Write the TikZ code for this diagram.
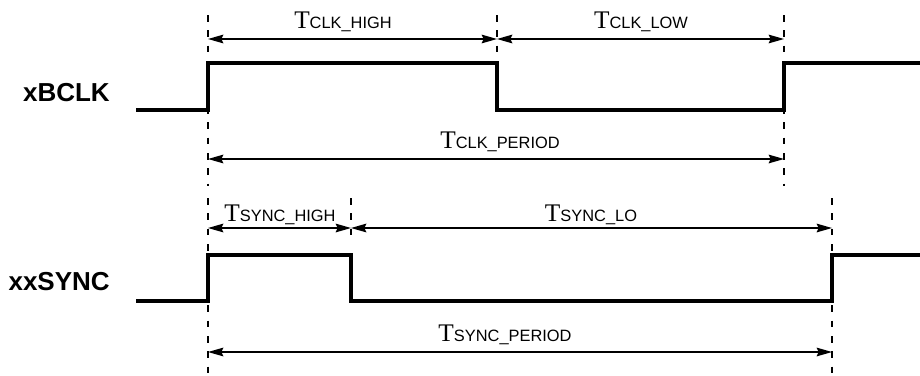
\documentclass[tikz,border=0pt]{standalone}
\usepackage{fontspec}
\setmainfont{Liberation Sans}
\newfontfamily\lserif{Liberation Serif}
\usetikzlibrary{arrows.meta}
\newcommand\tlab[1]{{\fontsize{19}{19}\selectfont\lserif T}{\fontsize{12.3}{13}\selectfont #1}}
\begin{document}
\begin{tikzpicture}[x=0.75pt,y=-0.75pt,
  wave/.style={line width=2.7pt,line join=miter,line cap=butt},
  guide/.style={line width=1.2pt,dash pattern=on 5pt off 6.5pt},
  dim/.style={line width=1.1pt,{Stealth[length=11.5pt,width=6.5pt,inset=1.5pt]}-{Stealth[length=11.5pt,width=6.5pt,inset=1.5pt]}},
  tlabel/.style={anchor=base,inner sep=0pt,outer sep=0pt},
  sig/.style={anchor=base east,inner sep=0pt,font=\bfseries\fontsize{19.5}{20}\selectfont}]
\useasboundingbox (0,0) rectangle (920,375);
% signal names
\node[sig] (nclk) at (110,101) {xBCLK};
\node[sig] (nsync) at (110,290) {xxSYNC};
% waveforms
\draw[wave] (136,110) -- (208,110) -- (208,63) -- (497,63) -- (497,110) -- (784,110) -- (784,63) -- (920,63);
\draw[wave] (136,301) -- (208,301) -- (208,255) -- (351,255) -- (351,301) -- (832,301) -- (832,255) -- (920,255);
% guide lines
\coordinate (g1t) at (208,15); \coordinate (g1b) at (208,186);
\coordinate (g2t) at (497,15); \coordinate (g2b) at (497,52);
\coordinate (g3t) at (784,15); \coordinate (g3b) at (784,186);
\coordinate (s1t) at (208,198); \coordinate (s1b) at (208,375);
\coordinate (s2t) at (351,198); \coordinate (s2b) at (351,240);
\coordinate (s3t) at (832,198); \coordinate (s3b) at (832,375);
\draw[guide] (g1t) -- (g1b);
\draw[guide] (g2t) -- (g2b);
\draw[guide] (g3t) -- (g3b);
\draw[guide] (s1t) -- (s1b);
\draw[guide] (s2t) -- (s2b);
\draw[guide] (s3t) -- (s3b);
% dimension arrows
\coordinate (a1) at (208,39); \coordinate (a2) at (497,39); \coordinate (a3) at (784,39);
\coordinate (p1) at (208,159); \coordinate (p2) at (784,159);
\coordinate (b1) at (208,228); \coordinate (b2) at (351,228); \coordinate (b3) at (832,228);
\coordinate (q1) at (208,352); \coordinate (q2) at (832,352);
\draw[dim] (a1) -- (a2);
\draw[dim] (a2) -- (a3);
\draw[dim] (p1) -- (p2);
\draw[dim] (b1) -- (b2);
\draw[dim] (b2) -- (b3);
\draw[dim] (q1) -- (q2);
% labels
\node[tlabel] (lch) at (343,28) {\tlab{CLK\_HIGH}};
\node[tlabel] (lcl) at (641,28) {\tlab{CLK\_LOW}};
\node[tlabel] (lcp) at (500,148) {\tlab{CLK\_PERIOD}};
\node[tlabel] (lsh) at (280,221) {\tlab{SYNC\_HIGH}};
\node[tlabel] (lsl) at (591,221) {\tlab{SYNC\_LO}};
\node[tlabel] (lsp) at (505,341) {\tlab{SYNC\_PERIOD}};
\end{tikzpicture}
\end{document}
